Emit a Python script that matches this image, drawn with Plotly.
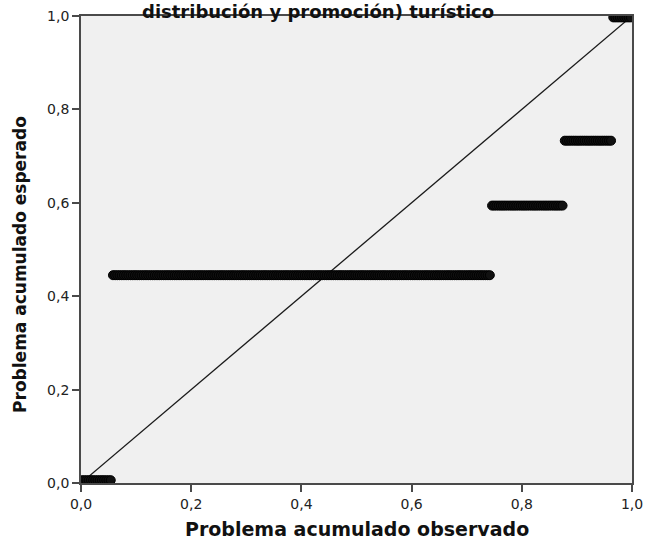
import plotly.graph_objects as go

# Data: P-P plot of an ordinal variable
categories = ["1", "2", "3", "4", "5"]
counts = [14, 172, 33, 22, 9]                      # cases per category
expected_cum = [0.006, 0.445, 0.594, 0.733, 0.997]  # expected cumulative probability
x_ticks = [0.0, 0.2, 0.4, 0.6, 0.8, 1.0]
y_ticks = [0.0, 0.2, 0.4, 0.6, 0.8, 1.0]

n = sum(counts)
obs_x, exp_y = [], []
rank = 0
for c, e in zip(counts, expected_cum):
    for _ in range(c):
        rank += 1
        obs_x.append((rank - 0.5) / n)   # observed cumulative proportion
        exp_y.append(e)

FONT = "DejaVu Sans, Liberation Sans, Arial"

fig = go.Figure()
fig.add_trace(go.Scatter(x=[0, 1], y=[0, 1], mode="lines",
                         line=dict(color="#1a1a1a", width=1.3),
                         hoverinfo="skip", showlegend=False))
fig.add_trace(go.Scatter(x=obs_x, y=exp_y, mode="markers",
                         marker=dict(size=9, color="#111111",
                                     line=dict(color="#000000", width=1)),
                         showlegend=False))

axis_common = dict(range=[0, 1], showgrid=False, zeroline=False, automargin=False,
                   showline=True, linecolor="#4a4a4a", linewidth=1.8,
                   mirror=True, ticks="outside", ticklen=7, tickwidth=1.5,
                   tickcolor="#4a4a4a", tickformat=".1f",
                   tickfont=dict(family=FONT, size=14, color="#222222"))

fig.update_xaxes(**axis_common, tickvals=x_ticks)
fig.update_yaxes(**axis_common, tickvals=y_ticks)

fig.add_annotation(text="<b>Problema acumulado observado</b>",
                   xref="paper", yref="paper", x=0.5, y=0, yshift=-46,
                   showarrow=False, xanchor="center", yanchor="middle",
                   font=dict(family=FONT, size=19, color="#111111"))
fig.add_annotation(text="<b>Problema acumulado esperado</b>",
                   xref="paper", yref="paper", x=0, y=0.467, xshift=-61,
                   textangle=-90, showarrow=False, xanchor="center", yanchor="middle",
                   font=dict(family=FONT, size=17, color="#111111"))
fig.add_annotation(text="<b>distribución y promoción) turístico</b>",
                   xref="paper", yref="paper", x=0.43, y=1.0, yshift=5,
                   showarrow=False, xanchor="center", yanchor="middle",
                   font=dict(family=FONT, size=18, color="#111111"))

fig.update_layout(width=646, height=541,
                  margin=dict(l=81, r=14, t=16, b=58),
                  plot_bgcolor="#F0F0F0", paper_bgcolor="#FFFFFF",
                  separators=",.")

fig.write_html("out.html", config={"displayModeBar": False},
               post_script="document.body.style.margin='0';document.body.style.overflow='hidden';")
